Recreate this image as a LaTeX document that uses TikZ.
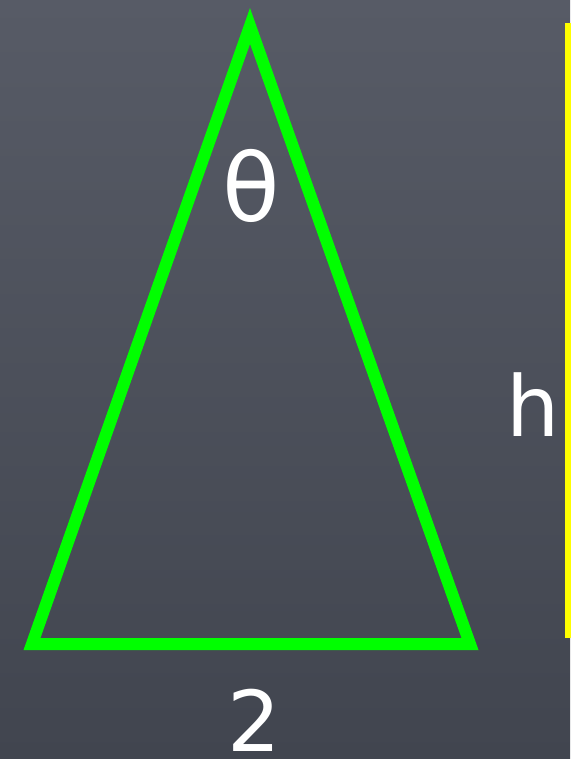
\documentclass[tikz,border=0pt]{standalone}
\usepackage{fontspec}
\setmainfont{DejaVu Sans}
\definecolor{bgtop}{HTML}{575B66}
\definecolor{bgbot}{HTML}{41454F}
\definecolor{trigreen}{HTML}{00FF00}
\definecolor{hyellow}{HTML}{FFFF00}
\tikzset{
  side/.style={draw=trigreen, line width=12pt, line join=miter},
  lbl/.style={text=white, inner sep=0pt, anchor=center}
}
\begin{document}
\begin{tikzpicture}[x=1pt,y=-1pt]
\shade[top color=bgtop, bottom color=bgbot] (0,0) rectangle (570,759);
\useasboundingbox (0,0) rectangle (570,759);
\coordinate (apex) at (250,26);
\coordinate (bl) at (32,644);
\coordinate (br) at (470,644);
\draw[side] (apex) -- (br) -- (bl) -- cycle;
\fill[hyellow] (565,23) rectangle (572,638);
\node[lbl, font=\fontsize{94}{94}\selectfont] (theta) at (251,186) {θ};
\node[lbl, font=\fontsize{84}{84}\selectfont] (h) at (533,405) {h};
\node[lbl, font=\fontsize{84}{84}\selectfont] (two) at (254,720) {2};
\end{tikzpicture}
\end{document}
